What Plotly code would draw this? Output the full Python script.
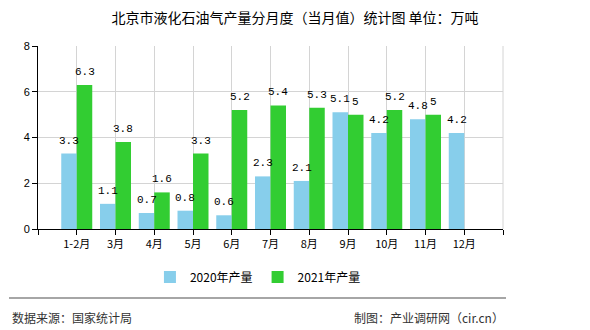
import plotly.graph_objects as go

categories = ["1-2月", "3月", "4月", "5月", "6月", "7月", "8月", "9月", "10月", "11月", "12月"]
values_2020 = [3.3, 1.1, 0.7, 0.8, 0.6, 2.3, 2.1, 5.1, 4.2, 4.8, 4.2]
values_2021 = [6.3, 3.8, 1.6, 3.3, 5.2, 5.4, 5.3, 5, 5.2, 5, None]
y_ticks = [0, 2, 4, 6, 8]

positions = list(range(1, len(categories) + 1))
tick_positions = list(range(0, len(categories) + 2))
tick_text = [""] + categories + [""]

font_cjk = "Noto Sans CJK SC, sans-serif"
BARGAP = 0.2
series = [("2020年产量", values_2020, "#87CEEB"),
          ("2021年产量", values_2021, "#32CD32")]
bar_w = (1 - BARGAP) / len(series)

fig = go.Figure()
annotations = []
for i, (name, vals, color) in enumerate(series):
    fig.add_trace(go.Bar(
        x=positions, y=vals, name=name,
        marker=dict(color=color, line=dict(width=0)),
    ))
    offset = -(1 - BARGAP) / 2 + bar_w * (i + 0.5)
    for p, v in zip(positions, vals):
        if v is None:
            continue
        annotations.append(dict(
            x=p + offset, y=v, xref="x", yref="y", text="%g" % v,
            showarrow=False, xanchor="center", yanchor="bottom", yshift=5,
            font=dict(size=11, color="#000", family="Liberation Mono, monospace"),
        ))

annotations += [
    dict(text="数据来源：国家统计局", xref="paper", yref="paper",
         x=-28 / 465, y=-88 / 183, xanchor="left", yanchor="middle",
         showarrow=False, font=dict(size=12, color="#333", family=font_cjk)),
    dict(text="制图：产业调研网（cir.cn）", xref="paper", yref="paper",
         x=468 / 465, y=-88 / 183, xanchor="right", yanchor="middle",
         showarrow=False, font=dict(size=12, color="#333", family=font_cjk)),
]

fig.update_layout(
    width=590, height=330,
    margin=dict(l=38, r=87, t=46, b=101),
    paper_bgcolor="white", plot_bgcolor="white",
    barmode="group", bargap=BARGAP, bargroupgap=0,
    font=dict(family=font_cjk, size=11, color="#000"),
    title=dict(text="北京市液化石油气产量分月度（当月值）统计图 单位：万吨",
               x=0.5, xanchor="center", y=1 - 18 / 330, yanchor="middle",
               font=dict(size=14, color="#000", family=font_cjk)),
    xaxis=dict(range=[0, len(categories) + 1], tickmode="array",
               tickvals=tick_positions, ticktext=tick_text,
               showgrid=True, gridcolor="#d4d4d4", gridwidth=1,
               showline=True, linecolor="#000", linewidth=1,
               ticks="outside", ticklen=5, tickcolor="#000",
               tickfont=dict(size=11, family=font_cjk), zeroline=False),
    yaxis=dict(range=[0, 8], tickmode="array", tickvals=y_ticks,
               showgrid=True, gridcolor="#d4d4d4", gridwidth=1,
               showline=True, linecolor="#000", linewidth=1,
               ticks="outside", ticklen=5, tickcolor="#000",
               tickfont=dict(size=11, family="Liberation Sans, sans-serif"),
               zeroline=False),
    legend=dict(orientation="h", x=0.473, xanchor="center",
                y=-0.262, yanchor="middle",
                font=dict(size=12, family=font_cjk),
                itemwidth=30, traceorder="normal"),
    showlegend=True,
    shapes=[
        dict(type="line", xref="paper", yref="paper",
             x0=1, x1=1, y0=0, y1=1, layer="below",
             line=dict(color="#d4d4d4", width=1)),
        dict(type="line", xref="paper", yref="paper",
             x0=-29 / 465, x1=468 / 465, y0=-69 / 183, y1=-69 / 183,
             line=dict(color="#888", width=1.5)),
    ],
    annotations=annotations,
)

fig.write_html("out.html")
